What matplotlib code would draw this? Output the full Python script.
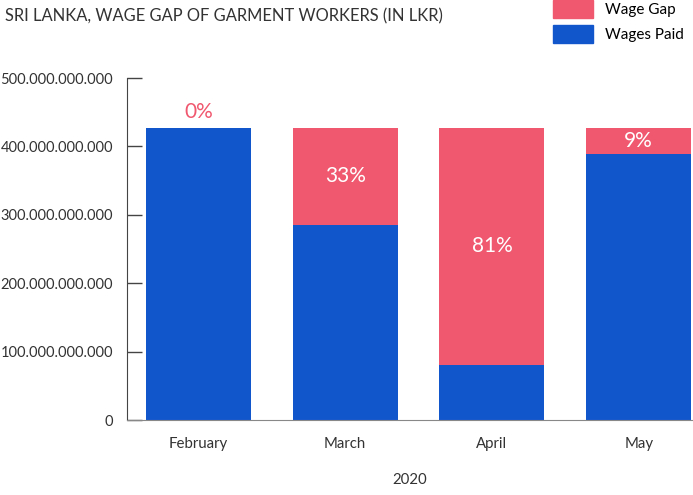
import matplotlib
matplotlib.use("Agg")
import matplotlib.pyplot as plt
from matplotlib.patches import Patch

plt.rcParams['font.family'] = ['Lato', 'DejaVu Sans']

months = ["February", "March", "April", "May"]
total = [427e9, 427e9, 427e9, 427e9]
wages_paid = [427e9, 285e9, 81e9, 389e9]
wage_gap = [t - p for t, p in zip(total, wages_paid)]
gap_labels = ["0%", "33%", "81%", "9%"]
yticks = [0, 100e9, 200e9, 300e9, 400e9, 500e9]
ytick_labels = ["0", "100.000.000.000", "200.000.000.000", "300.000.000.000",
                "400.000.000.000", "500.000.000.000"]

RED = "#F0586F"
BLUE = "#1256CC"
TXT = "#333333"

fig = plt.figure(figsize=(6.93, 4.95), dpi=100)
ax = fig.add_axes([127/693, 1-420/495, 1-127/693, (420-78)/495])

x = list(range(len(months)))
w = 0.716
ax.bar(x, wages_paid, width=w, color=BLUE, label="Wages Paid")
ax.bar(x, wage_gap, width=w, bottom=wages_paid, color=RED, label="Wage Gap")

for i, lab in enumerate(gap_labels):
    if wage_gap[i] <= 0:
        ax.text(x[i], total[i] + 8e9, lab, ha="center", va="bottom",
                color=RED, fontsize=15)
    else:
        ax.text(x[i], wages_paid[i] + wage_gap[i] / 2, lab, ha="center",
                va="center", color="white", fontsize=15)

ax.set_xlim(-0.487, 3.37)
ax.set_ylim(0, 500e9)
ax.set_yticks(yticks)
ax.set_yticklabels(ytick_labels)
ax.set_xticks(x)
ax.set_xticklabels(months)
ax.tick_params(axis="y", direction="in", length=11, width=1, color="#444444",
               labelsize=10.5, labelcolor=TXT, pad=10)
ax.tick_params(axis="x", length=0, labelsize=10.8, labelcolor=TXT, pad=12)
for s in ["top", "right"]:
    ax.spines[s].set_visible(False)
ax.spines["left"].set_color("#444444")
ax.spines["bottom"].set_color("#888888")
ax.set_xlabel("2020", fontsize=10.8, color=TXT, labelpad=16)

fig.text(5/693, 1-8/495, "SRI LANKA, WAGE GAP OF GARMENT WORKERS (IN LKR)",
         ha="left", va="top", fontsize=11.9, color=TXT)

handles = [Patch(color=RED, label="Wage Gap"), Patch(color=BLUE, label="Wages Paid")]
fig.legend(handles=handles, loc="upper left", bbox_to_anchor=(553/693, 1.0),
           frameon=False, fontsize=11, handlelength=2.6, handleheight=1.45,
           handletextpad=0.8, labelspacing=0.42, borderaxespad=0.0, borderpad=0.0)

fig.savefig("out.png", dpi=100)
